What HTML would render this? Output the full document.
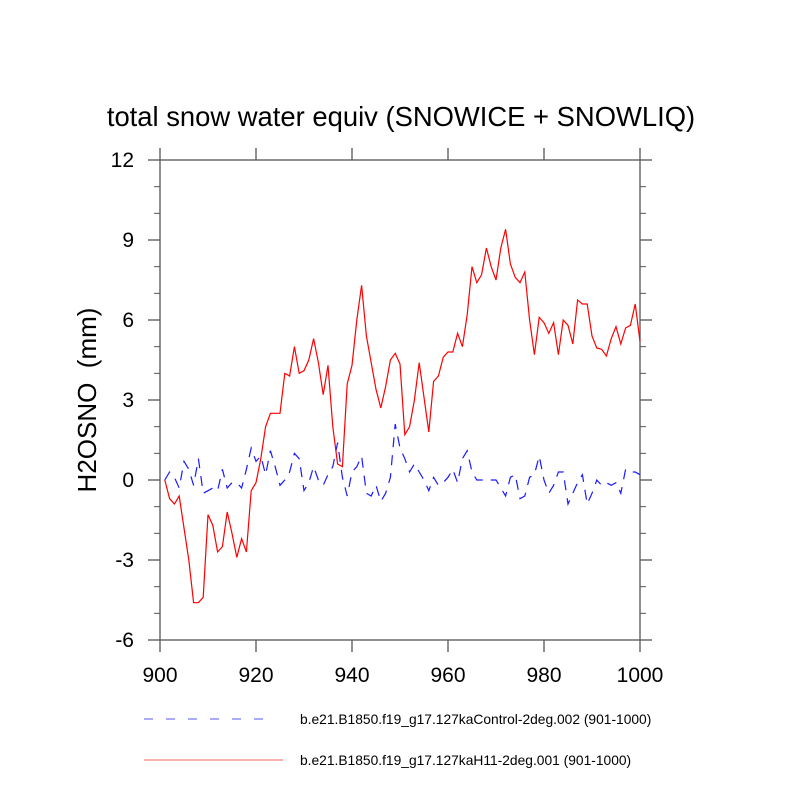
<!DOCTYPE html>
<html><head><meta charset="utf-8">
<style>body{margin:0;background:#fff}svg{display:block;font-family:"Liberation Sans",Arial,sans-serif}</style>
</head><body>
<svg id="chart" width="800" height="800" viewBox="0 0 800 800">
<text x="401" y="126" font-size="27.4" text-anchor="middle">total snow water equiv (SNOWICE + SNOWLIQ)</text>
<text transform="translate(96,400) rotate(-90)" font-size="26" text-anchor="middle" xml:space="preserve">H2OSNO  (mm)</text>
<g id="axes"></g>
<g id="series"></g>
<g>
<line x1="144" y1="719" x2="276" y2="719" stroke="#5555ff" stroke-width="1" stroke-dasharray="9 13"/>
<text x="300" y="724" font-size="13.8">b.e21.B1850.f19_g17.127kaControl-2deg.002 (901-1000)</text>
<line x1="144" y1="760" x2="283" y2="760" stroke="#f06060" stroke-width="1"/>
<text x="300" y="765" font-size="13.8">b.e21.B1850.f19_g17.127kaH11-2deg.001 (901-1000)</text>
</g>
</svg>
<script>
const years=[];for(let y=901;y<=1000;y++)years.push(y);
const redValues=[0,-0.7,-0.9,-0.6,-1.8,-3.0,-4.6,-4.6,-4.4,-1.3,-1.7,-2.7,-2.5,-1.2,-2.0,-2.9,-2.2,-2.7,-0.4,-0.1,0.8,2.0,2.5,2.5,2.5,4.0,3.9,5.0,4.0,4.1,4.5,5.3,4.4,3.2,4.3,2.0,0.6,0.5,3.6,4.3,6.0,7.3,5.4,4.4,3.4,2.7,3.5,4.5,4.75,4.35,1.7,2.0,3.0,4.4,3.1,1.8,3.7,3.9,4.6,4.8,4.8,5.5,5.0,6.2,8.0,7.4,7.7,8.7,8.0,7.5,8.7,9.4,8.1,7.6,7.4,7.8,6.0,4.7,6.1,5.9,5.5,5.9,4.7,6.0,5.8,5.1,6.75,6.6,6.6,5.4,4.95,4.9,4.65,5.3,5.75,5.1,5.7,5.8,6.6,5.2];
const blueValues=[0,0.3,0.1,-0.3,0.7,0.4,-0.2,0.8,-0.5,-0.4,-0.3,-0.4,0.4,-0.3,-0.1,-0.1,-0.3,0.4,1.2,0.7,0.9,0.2,1.1,0.5,-0.2,0.0,0.3,1.0,0.8,-0.4,-0.1,0.5,0.0,-0.2,0.2,0.5,1.4,0.1,-0.6,0.3,0.5,0.9,-0.5,-0.6,-0.2,-0.8,-0.5,0.1,2.1,1.2,0.8,0.3,0.6,0.3,0.0,-0.4,0.1,-0.2,-0.1,0.1,0.4,-0.1,0.8,1.1,0.3,0.0,0.0,0.0,0.0,0.0,-0.3,-0.6,0.1,0.2,-0.7,-0.6,0.1,0.2,0.9,0.0,-0.5,-0.2,0.3,0.3,-0.9,-0.5,-0.1,0.2,-0.9,-0.5,0.0,-0.2,-0.1,-0.2,-0.1,-0.5,0.4,0.3,0.3,0.2];
const xTicks=[900,920,940,960,980,1000];
const yTicks=[-6,-3,0,3,6,9,12];
const yMinor=[-5,-4,-2,-1,1,2,4,5,7,8,10,11];
const NS="http://www.w3.org/2000/svg";
const L=160,R=640,T=160,B=640;
const xs=v=>L+(v-900)/100*(R-L);
const ys=v=>B-(v+6)/18*(B-T);
function mk(tag,attrs,parent){const e=document.createElementNS(NS,tag);for(const k in attrs)e.setAttribute(k,attrs[k]);parent.appendChild(e);return e;}
const ax=document.getElementById('axes');
const frame=mk('rect',{x:L,y:T,width:R-L,height:B-T,fill:'none',stroke:'#555','stroke-width':1.3},ax);


xTicks.forEach(v=>{const x=xs(v);
 const t1=mk('line',{x1:x,x2:x,y1:B,y2:B+12,stroke:'#555','stroke-width':1.3},ax);
 
 
 const t2=mk('line',{x1:x,x2:x,y1:T,y2:T-12,stroke:'#555','stroke-width':1.3},ax);
 
 
 const tx=mk('text',{x:x,y:B+42,'font-size':21,'text-anchor':'middle'},ax);tx.textContent=v;
 
 
});
yTicks.forEach(v=>{const y=ys(v);
 const t1=mk('line',{x1:L,x2:L-12,y1:y,y2:y,stroke:'#555','stroke-width':1.3},ax);
 
 
 const t2=mk('line',{x1:R,x2:R+12,y1:y,y2:y,stroke:'#555','stroke-width':1.3},ax);
 
 
 const tx=mk('text',{x:L-26,y:y+7,'font-size':21,'text-anchor':'end'},ax);tx.textContent=v;
 
 
});
yMinor.forEach(v=>{const y=ys(v);
 const t1=mk('line',{x1:L,x2:L-6,y1:y,y2:y,stroke:'#555','stroke-width':1},ax);
 
 
 const t2=mk('line',{x1:R,x2:R+6,y1:y,y2:y,stroke:'#555','stroke-width':1},ax);
 
 
});
const se=document.getElementById('series');
const bp=mk('polyline',{points:years.map((yr,i)=>xs(yr)+','+ys(blueValues[i])).join(' '),fill:'none',stroke:'#1a1aff','stroke-width':1.2,'stroke-dasharray':'10 8'},se);


const rp=mk('polyline',{points:years.map((yr,i)=>xs(yr)+','+ys(redValues[i])).join(' '),fill:'none',stroke:'#ff0000','stroke-width':1.2},se);


</script>
</body></html>
